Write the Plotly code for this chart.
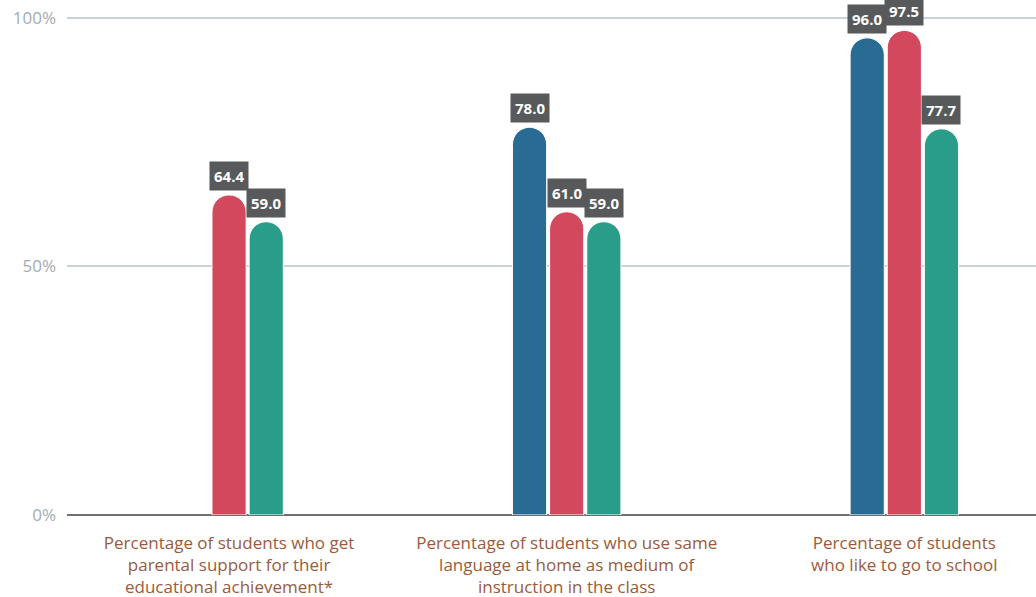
import plotly.graph_objects as go

categories = [
    "Percentage of students who get<br>parental support for their<br>educational achievement*",
    "Percentage of students who use same<br>language at home as medium of<br>instruction in the class",
    "Percentage of students<br>who like to go to school",
]
series_names = ["Series 1", "Series 2", "Series 3"]
series_values = [
    [None, 78.0, 96.0],
    [64.4, 61.0, 97.5],
    [59.0, 59.0, 77.7],
]
series_colors = ["#2a6b94", "#d2495d", "#2a9d8a"]
y_tickvals = [0, 50, 100]
y_ticktext = ["0%", "50%", "100%"]

bargap = 0.67
bargroupgap = 0.08
n = len(series_values)
slot = (1 - bargap) / n

fig = go.Figure()
for i, (name, vals, col) in enumerate(zip(series_names, series_values, series_colors)):
    fig.add_trace(go.Bar(
        x=list(range(len(categories))), y=vals, name=name,
        marker=dict(color=col, cornerradius="50%", line=dict(color="white", width=1)),
        hoverinfo="y",
    ))
    for j, v in enumerate(vals):
        if v is None:
            continue
        fig.add_annotation(
            x=j + (i - (n - 1) / 2) * slot, y=v, xref="x", yref="y",
            text=f"<b>{v:.1f}</b>", showarrow=False, yanchor="bottom", yshift=4,
            font=dict(family="Open Sans, sans-serif", size=15, color="white"),
            bgcolor="#58595b", borderpad=4,
        )

fig.update_layout(
    width=1036, height=597,
    margin=dict(l=67, r=0, t=16, b=82),
    plot_bgcolor="white", paper_bgcolor="white",
    barmode="group", bargap=bargap, bargroupgap=bargroupgap,
    showlegend=False,
    font=dict(family="Open Sans, sans-serif"),
    xaxis=dict(
        tickmode="array", tickvals=list(range(len(categories))), ticktext=categories,
        range=[-0.48, 2.39], showgrid=False, zeroline=False, showline=False,
        tickfont=dict(size=17, color="#9a5b3c", family="Open Sans, sans-serif", weight=500),
        ticks="", ticklabelstandoff=16,
    ),
    yaxis=dict(
        range=[0, 100.4], tickvals=y_tickvals, ticktext=y_ticktext,
        showgrid=True, gridcolor="#c9d2da", gridwidth=1.5,
        zeroline=True, zerolinecolor="#6f6f6f", zerolinewidth=2,
        tickfont=dict(size=17, color="#a3acb5", family="Open Sans, sans-serif"),
        ticklabelstandoff=10,
    ),
)

fig.write_html("out.html")
